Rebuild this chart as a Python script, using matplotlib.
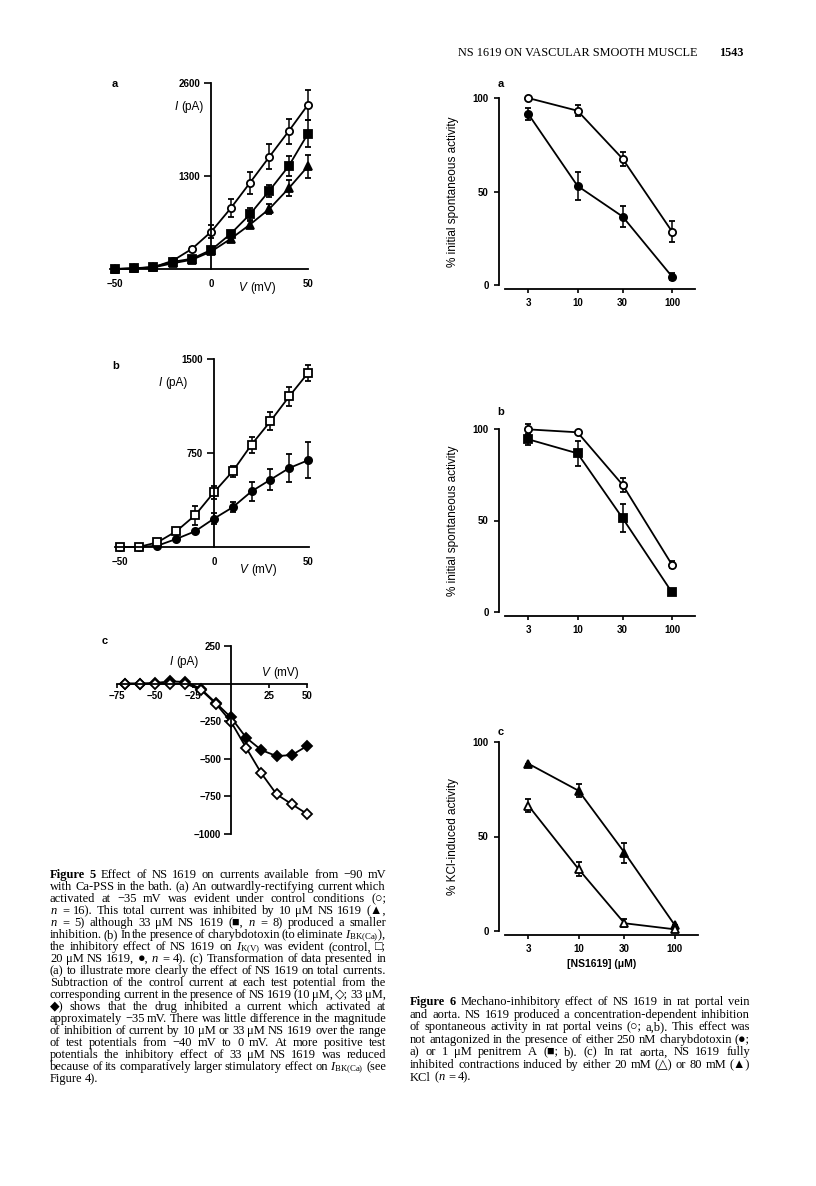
import matplotlib
matplotlib.use("Agg")
import matplotlib.pyplot as plt

W, H = 816, 1186

# ---- Figure 5 data ----
V_ab = [-50, -40, -30, -20, -10, 0, 10, 20, 30, 40, 50]

ctrl_a = [0, 8, 25, 116, 283, 524, 849, 1207, 1569, 1926, 2297]
ctrl_a_err = [0, 0, 0, 0, 30, 88, 125, 153, 176, 176, 209]
ns10_a = [0, 8, 22, 80, 130, 246, 422, 622, 840, 1127, 1438]
ns10_a_err = [0, 0, 0, 0, 0, 30, 35, 46, 74, 111, 162]
ns33_a = [0, 10, 28, 100, 144, 269, 492, 766, 1095, 1438, 1893]
ns33_a_err = [0, 0, 0, 0, 0, 35, 46, 84, 84, 144, 186]

ctrl_b = [0, 0, 37, 125, 253, 436, 604, 817, 1003, 1202, 1389]
ctrl_b_err = [0, 0, 0, 0, 77, 53, 43, 64, 72, 76, 66]
ns20_b = [0, 0, 10, 64, 125, 226, 317, 444, 537, 630, 692]
ns20_b_err = [0, 0, 0, 0, 0, 45, 40, 76, 85, 115, 144]

V_c = [-70, -60, -50, -40, -30, -20, -10, 0, 10, 20, 30, 40, 50]
diff10_c = [0, 0, 0, 0, 0, -40, -133, -254, -427, -597, -736, -802, -866]
diff33_c = [0, 0, 4, 15, 11, -33, -128, -225, -360, -442, -482, -475, -415]

# ---- Figure 6 data ----
conc = [3, 10, 30, 100]
pv_ctrl_a = [100, 93.2, 67.5, 28.6]
pv_ctrl_a_err = [0, 2.9, 3.6, 5.5]
pv_chtx = [91.6, 53, 36.6, 4.5]
pv_chtx_err = [3.3, 7.6, 5.8, 2]

pv_ctrl_b = [99.8, 98.2, 69.5, 25.8]
pv_ctrl_b_err = [3, 0, 3.8, 2]
pv_pen = [94.4, 86.7, 51.3, 10.7]
pv_pen_err = [3, 6.9, 7.5, 0]

kcl80 = [88.5, 74.2, 41.5, 3.2]
kcl80_err = [0, 3.5, 5.3, 0]
kcl20 = [66.3, 32.7, 4.1, 0.9]
kcl20_err = [3.5, 3.6, 2, 0]

cap5 = [
    "Figure 5 Effect of NS 1619 on currents available from −90 mV",
    "with Ca-PSS in the bath. (a) An outwardly-rectifying current which",
    "activated at −35 mV was evident under control conditions (○;",
    "$n$ = 16). This total current was inhibited by 10 μM NS 1619 (▲,",
    "$n$ = 5) although 33 μM NS 1619 (■, $n$ = 8) produced a smaller",
    r"inhibition. (b) In the presence of charybdotoxin (to eliminate $I_{\mathrm{BK(Ca)}}$),",
    r"the inhibitory effect of NS 1619 on $I_{\mathrm{K(V)}}$ was evident (control, □;",
    "20 μM NS 1619, ●, $n$ = 4). (c) Transformation of data presented in",
    "(a) to illustrate more clearly the effect of NS 1619 on total currents.",
    "Subtraction of the control current at each test potential from the",
    "corresponding current in the presence of NS 1619 (10 μM, ◇; 33 μM,",
    "◆) shows that the drug inhibited a current which activated at",
    "approximately −35 mV. There was little difference in the magnitude",
    "of inhibition of current by 10 μM or 33 μM NS 1619 over the range",
    "of test potentials from −40 mV to 0 mV. At more positive test",
    "potentials the inhibitory effect of 33 μM NS 1619 was reduced",
    r"because of its comparatively larger stimulatory effect on $I_{\mathrm{BK(Ca)}}$ (see",
    "Figure 4).",
]
cap6 = [
    "Figure 6 Mechano-inhibitory effect of NS 1619 in rat portal vein",
    "and aorta. NS 1619 produced a concentration-dependent inhibition",
    "of spontaneous activity in rat portal veins (○; a,b). This effect was",
    "not antagonized in the presence of either 250 nM charybdotoxin (●;",
    "a) or 1 μM penitrem A (■; b). (c) In rat aorta, NS 1619 fully",
    "inhibited contractions induced by either 20 mM (△) or 80 mM (▲)",
    "KCl ($n$ = 4).",
]

plt.rcParams["font.family"] = ["Liberation Sans", "DejaVu Sans"]
plt.rcParams["mathtext.fontset"] = "custom"
plt.rcParams["mathtext.rm"] = "Liberation Serif"
plt.rcParams["mathtext.it"] = "Liberation Serif:italic"
plt.rcParams["mathtext.bf"] = "Liberation Serif:bold"

fig = plt.figure(figsize=(W / 100, H / 100), dpi=100)
SERIF = ["Liberation Serif", "DejaVu Sans"]


def add_ax(x0, y0, x1, y1):
    return fig.add_axes([x0 / W, 1 - y1 / H, (x1 - x0) / W, (y1 - y0) / H])


def ftext(x, y, s, **kw):
    return fig.text(x / W, 1 - y / H, s, **kw)


def series(ax, x, y, err, marker, filled, ms=5.2):
    ax.errorbar(x, y, yerr=err, fmt="-" + marker, color="k", lw=1.3,
                mfc="k" if filled else "white", mec="k", mew=1.3, ms=ms,
                capsize=2, elinewidth=1.1, capthick=1.1, clip_on=False)


def iv_axes(ax):
    for s in ["top", "right"]:
        ax.spines[s].set_visible(False)
    ax.spines["left"].set_position(("data", 0))
    ax.spines["bottom"].set_position(("data", 0))
    ax.spines["left"].set_linewidth(1.3)
    ax.spines["bottom"].set_linewidth(1.3)
    ax.patch.set_visible(False)
    for lbl in ax.get_xticklabels() + ax.get_yticklabels():
        lbl.set_fontweight("bold")


def axis_label(x, y, sym, unit):
    # italic symbol + upright unit, as in the original
    ftext(x, y, sym, fontsize=8.5, style="italic", ha="right", va="center")
    ftext(x + 3, y, unit, fontsize=8.5, ha="left", va="center")


# ---------- Figure 5a ----------
ax = add_ax(110, 83, 308, 269)
ax.set_xlim(-52.5, 50)
ax.set_ylim(0, 2600)
series(ax, V_ab, ctrl_a, ctrl_a_err, "o", False)
series(ax, V_ab, ns10_a, ns10_a_err, "^", True, ms=5.8)
series(ax, V_ab, ns33_a, ns33_a_err, "s", True)
ax.set_yticks([1300, 2600])
ax.set_xticks([-50, 0, 50])
ax.tick_params(axis="y", length=5, width=1.2, pad=3, labelsize=7)
ax.tick_params(axis="x", length=0, pad=7, labelsize=7)
iv_axes(ax)
axis_label(178, 107, "I", "(pA)")
axis_label(247, 288, "V", "(mV)")
ftext(115, 84, "a", fontsize=8, weight="bold", ha="center", va="center")

# ---------- Figure 5b ----------
ax = add_ax(115, 359, 309, 547)
ax.set_xlim(-52.5, 50.5)
ax.set_ylim(0, 1500)
series(ax, V_ab, ns20_b, ns20_b_err, "o", True)
series(ax, V_ab, ctrl_b, ctrl_b_err, "s", False)
ax.set_yticks([750, 1500])
ax.set_xticks([-50, 0, 50])
ax.tick_params(axis="y", length=5, width=1.2, pad=3, labelsize=7)
ax.tick_params(axis="x", length=0, pad=7, labelsize=7)
iv_axes(ax)
axis_label(162, 383, "I", "(pA)")
axis_label(248, 570, "V", "(mV)")
ftext(116, 366, "b", fontsize=8, weight="bold", ha="center", va="center")

# ---------- Figure 5c ----------
ax = add_ax(117, 646, 307, 834)
ax.set_xlim(-75, 50)
ax.set_ylim(-1000, 250)
series(ax, V_c, diff33_c, None, "D", True, ms=5.3)
series(ax, V_c, diff10_c, None, "D", False, ms=5.3)
ax.set_yticks([250, -250, -500, -750, -1000])
ax.set_xticks([-75, -50, -25, 25, 50])
ax.tick_params(axis="y", length=5, width=1.2, pad=2, labelsize=7)
ax.tick_params(axis="x", length=3, width=1.2, pad=2.5, labelsize=7)
iv_axes(ax)
axis_label(173, 662, "I", "(pA)")
axis_label(270, 673, "V", "(mV)")
ftext(105, 641, "c", fontsize=8, weight="bold", ha="center", va="center")


# ---------- Figure 6 ----------
def conc_axes(ax, ylabel):
    ax.set_xscale("log")
    ax.set_xlim(1.71, 175)
    ax.set_ylim(0, 100)
    for s in ["top", "right"]:
        ax.spines[s].set_visible(False)
    ax.spines["left"].set_position(("outward", 4.3))
    ax.spines["bottom"].set_position(("outward", 3))
    ax.spines["left"].set_bounds(0, 100)
    ax.spines["left"].set_linewidth(1.3)
    ax.spines["bottom"].set_linewidth(1.3)
    ax.set_xticks(conc)
    ax.set_xticklabels([str(c) for c in conc])
    ax.minorticks_off()
    ax.set_yticks([0, 50, 100])
    ax.tick_params(axis="y", length=3.5, width=1.2, pad=4, labelsize=7)
    ax.tick_params(axis="x", length=3, width=1.2, pad=3, labelsize=7)
    ax.patch.set_visible(False)
    for lbl in ax.get_xticklabels() + ax.get_yticklabels():
        lbl.set_fontweight("bold")
    ax.set_ylabel(ylabel, fontsize=8.5, labelpad=10)


ax = add_ax(505, 98, 695, 285)
series(ax, conc, pv_ctrl_a, pv_ctrl_a_err, "o", False)
series(ax, conc, pv_chtx, pv_chtx_err, "o", True)
conc_axes(ax, "% initial spontaneous activity")
ftext(501, 84, "a", fontsize=8, weight="bold", ha="center", va="center")

ax = add_ax(505, 429, 695, 612)
series(ax, conc, pv_ctrl_b, pv_ctrl_b_err, "o", False)
series(ax, conc, pv_pen, pv_pen_err, "s", True)
conc_axes(ax, "% initial spontaneous activity")
ftext(501, 412, "b", fontsize=8, weight="bold", ha="center", va="center")

ax = add_ax(505, 742, 698, 931)
series(ax, conc, kcl80, kcl80_err, "^", True, ms=5.8)
series(ax, conc, kcl20, kcl20_err, "^", False, ms=5.8)
conc_axes(ax, "% KCl-induced activity")
ax.set_xlabel("[NS1619] (μM)", fontsize=7.5, fontweight="bold", labelpad=4)
ftext(501, 732, "c", fontsize=8, weight="bold", ha="center", va="center")

# ---------- page header ----------
ftext(698, 56, "NS 1619 ON VASCULAR SMOOTH MUSCLE", family=SERIF,
      fontsize=8.8, ha="right", va="baseline")
ftext(743, 56, "1543", family=SERIF, fontsize=8.8, weight="bold",
      ha="right", va="baseline")


# ---------- captions (justified) ----------
def caption(lines, x0, x1, y0, dy, size=9.0):
    renderer = fig.canvas.get_renderer()
    for i, line in enumerate(lines):
        words = line.split(" ")
        texts = []
        for j, w in enumerate(words):
            bold = (i == 0 and j < 2)
            texts.append(ftext(0, 0, w, family=SERIF, fontsize=size,
                               weight="bold" if bold else "normal",
                               ha="left", va="baseline"))
        widths = [t.get_window_extent(renderer).width for t in texts]
        if i == len(lines) - 1 or len(words) == 1:
            gap = size * 0.3
        else:
            gap = max((x1 - x0 - sum(widths)) / (len(words) - 1), 1.5)
        x = x0
        y = y0 + i * dy
        for t, w in zip(texts, widths):
            t.set_position((x / W, 1 - y / H))
            x += w + gap


caption(cap5, 50, 386, 878, 12.0)
caption(cap6, 410, 750, 1005, 12.6)

fig.savefig("out.png", dpi=100)
